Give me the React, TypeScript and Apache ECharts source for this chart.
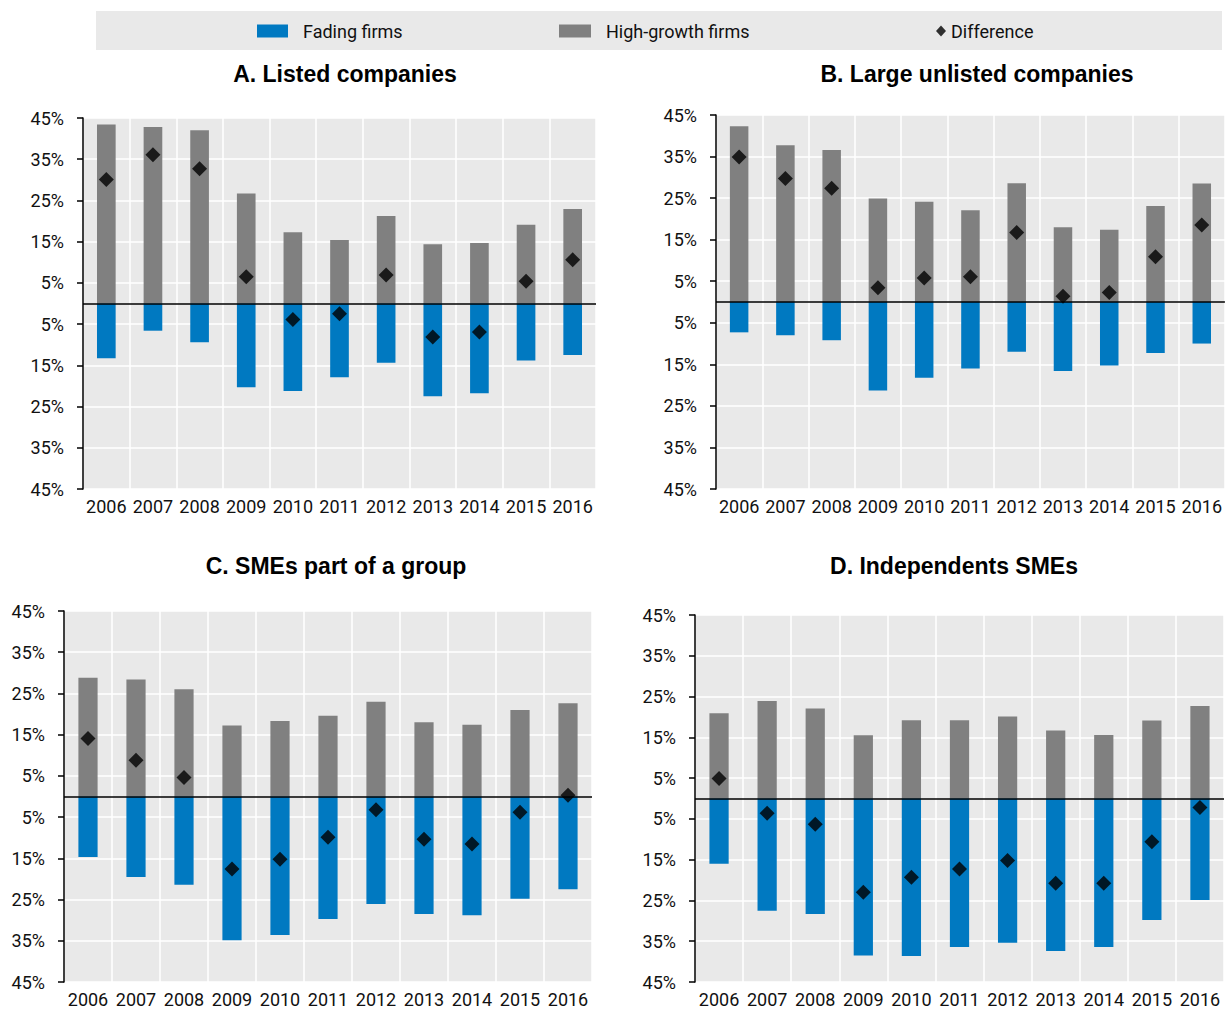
import React, { useEffect, useRef } from "react";
import * as echarts from "echarts";

// Years shown on every panel
const years = ["2006", "2007", "2008", "2009", "2010", "2011", "2012", "2013", "2014", "2015", "2016"];

// Panel titles
const panelTitles = [
  "A. Listed companies",
  "B. Large unlisted companies",
  "C. SMEs part of a group",
  "D. Independents SMEs",
];

// A. Listed companies (%)
const listedHigh = [43.4, 42.8, 42.0, 26.7, 17.3, 15.4, 21.2, 14.4, 14.7, 19.1, 22.9];
const listedFading = [-13.3, -6.6, -9.4, -20.3, -21.2, -17.9, -14.4, -22.5, -21.8, -13.8, -12.5];
const listedDiff = [30.1, 36.1, 32.7, 6.5, -3.9, -2.5, 6.9, -8.1, -6.9, 5.4, 10.6];

// B. Large unlisted companies (%)
const unlistedHigh = [42.3, 37.7, 36.6, 24.9, 24.1, 22.1, 28.6, 18.0, 17.4, 23.1, 28.5];
const unlistedFading = [-7.3, -8.0, -9.2, -21.3, -18.2, -16.0, -12.0, -16.6, -15.3, -12.3, -10.0];
const unlistedDiff = [34.9, 29.7, 27.4, 3.4, 5.8, 6.1, 16.7, 1.4, 2.3, 10.9, 18.5];

// C. SMEs part of a group (%)
const groupHigh = [28.8, 28.4, 26.0, 17.2, 18.3, 19.6, 23.0, 18.0, 17.4, 21.0, 22.6];
const groupFading = [-14.7, -19.5, -21.4, -34.9, -33.6, -29.7, -26.1, -28.5, -28.8, -24.8, -22.5];
const groupDiff = [14.1, 8.8, 4.6, -17.6, -15.2, -9.9, -3.2, -10.4, -11.5, -3.8, 0.3];

// D. Independent SMEs (%)
const indepHigh = [20.9, 23.9, 22.1, 15.5, 19.2, 19.2, 20.1, 16.7, 15.6, 19.1, 22.7];
const indepFading = [-16.0, -27.5, -28.3, -38.5, -38.6, -36.4, -35.4, -37.4, -36.4, -29.8, -24.9];
const indepDiff = [4.9, -3.6, -6.3, -23.0, -19.3, -17.3, -15.2, -20.8, -20.8, -10.6, -2.2];

// Value axis range (labels show absolute values)
const yMin = -45;
const yMax = 45;
const yStep = 10;

const seriesNames = ["Fading firms", "High-growth firms", "Difference"];

const BLUE = "#0079c1";
const GREY = "#808080";
const PANEL_BG = "#e9e9e9";
const LABEL_FONT = "Roboto, 'Liberation Sans', sans-serif";
const BOLD = "'Liberation Sans', Arial, sans-serif";

const panels = [
  { high: listedHigh, fading: listedFading, diff: listedDiff },
  { high: unlistedHigh, fading: unlistedFading, diff: unlistedDiff },
  { high: groupHigh, fading: groupFading, diff: groupDiff },
  { high: indepHigh, fading: indepFading, diff: indepDiff },
];

// Plot-area boxes of the four panels
const grids = [
  { left: 83, top: 118, width: 513, height: 371 },
  { left: 716, top: 115, width: 509, height: 374 },
  { left: 64, top: 611, width: 528, height: 371 },
  { left: 695, top: 615, width: 529, height: 367 },
];

const titlePos = [
  { x: 345, y: 74 },
  { x: 977, y: 74 },
  { x: 336, y: 566 },
  { x: 954, y: 566 },
];

function buildOption() {
  const grid = grids.map((g) => ({
    ...g,
    show: true,
    backgroundColor: PANEL_BG,
    borderWidth: 0,
    containLabel: false,
  }));

  const xAxis = grids.map((_, i) => ({
    type: "category",
    gridIndex: i,
    data: years,
    boundaryGap: true,
    axisLine: { show: false },
    axisTick: { show: false },
    splitLine: { show: true, interval: 0, lineStyle: { color: "#ffffff", width: 1.5 } },
    axisLabel: {
      interval: 0,
      margin: 8,
      color: "#111",
      fontSize: 18,
      fontFamily: LABEL_FONT,
    },
  }));

  const yAxis = grids.map((_, i) => ({
    type: "value",
    gridIndex: i,
    min: yMin,
    max: yMax,
    interval: yStep,
    axisLine: { show: true, onZero: false, lineStyle: { color: "#000", width: 1.5 } },
    axisTick: { show: true, length: 6, lineStyle: { color: "#000", width: 1.5 } },
    splitLine: { show: true, lineStyle: { color: "#ffffff", width: 1.5 } },
    axisLabel: {
      margin: 19,
      color: "#111",
      fontSize: 18,
      fontFamily: LABEL_FONT,
      formatter: (v: number) => `${Math.abs(Math.round(v))}%`,
    },
  }));

  const series: any[] = [];
  panels.forEach((p, i) => {
    series.push({
      name: seriesNames[1],
      type: "bar",
      xAxisIndex: i,
      yAxisIndex: i,
      data: p.high,
      barWidth: "40%",
      barGap: "-100%",
      itemStyle: { color: GREY },
    });
    series.push({
      name: seriesNames[0],
      type: "bar",
      xAxisIndex: i,
      yAxisIndex: i,
      data: p.fading,
      barWidth: "40%",
      barGap: "-100%",
      itemStyle: { color: BLUE },
      markLine: {
        silent: true,
        symbol: ["none", "none"],
        label: { show: false },
        lineStyle: { color: "#000", width: 1.5, type: "solid" },
        data: [{ yAxis: 0 }],
      },
    });
    series.push({
      name: seriesNames[2],
      type: "scatter",
      xAxisIndex: i,
      yAxisIndex: i,
      data: p.diff,
      symbol: "diamond",
      symbolSize: 15,
      itemStyle: { color: "#000" },
      z: 5,
    });
  });

  const legendBase = {
    orient: "horizontal",
    padding: 0,
    top: 22,
    selectedMode: false,
    z: 10,
    textStyle: { color: "#111", fontSize: 18, fontFamily: LABEL_FONT, padding: [0, 0, 0, 10] },
  };

  const legend = [
    { ...legendBase, left: 257, data: [{ name: seriesNames[0], icon: "rect" }], itemWidth: 31, itemHeight: 13 },
    { ...legendBase, left: 559, data: [{ name: seriesNames[1], icon: "rect" }], itemWidth: 32, itemHeight: 13 },
    {
      ...legendBase,
      left: 936,
      data: [{ name: seriesNames[2], icon: "diamond" }],
      itemWidth: 10,
      itemHeight: 11,
      textStyle: { ...legendBase.textStyle, padding: [0, 0, 0, 0] },
    },
  ];

  const graphic: any[] = [
    {
      type: "rect",
      z: 0,
      silent: true,
      shape: { x: 96, y: 11, width: 1126, height: 39 },
      style: { fill: PANEL_BG },
    },
    ...panelTitles.map((t, i) => ({
      type: "text",
      x: titlePos[i].x,
      y: titlePos[i].y,
      silent: true,
      style: {
        text: t,
        fill: "#000",
        font: `bold 23px ${BOLD}`,
        textAlign: "center",
        textVerticalAlign: "middle",
        align: "center",
        verticalAlign: "middle",
      },
    })),
  ];

  return {
    animation: false,
    backgroundColor: "#ffffff",
    grid,
    xAxis,
    yAxis,
    legend,
    graphic,
    series,
  };
}

export default function App() {
  const ref = useRef<HTMLDivElement>(null);

  useEffect(() => {
    document.body.style.margin = "0";
    if (!ref.current) return;
    const chart = echarts.init(ref.current, undefined, { renderer: "svg" });
    chart.setOption(buildOption() as any);
    return () => {
      chart.dispose();
    };
  }, []);

  return <div ref={ref} style={{ width: 1225, height: 1010 }} />;
}
